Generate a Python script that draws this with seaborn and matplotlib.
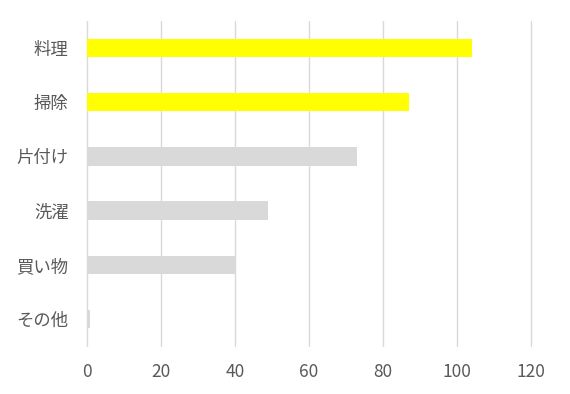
import matplotlib
matplotlib.use("Agg")
import matplotlib.pyplot as plt
import seaborn as sns
import pandas as pd

categories = ["料理", "掃除", "片付け", "洗濯", "買い物", "その他"]
values = [104, 87, 73, 49, 40, 1]
bar_colors = ["#FFFF00", "#FFFF00", "#D9D9D9", "#D9D9D9", "#D9D9D9", "#D9D9D9"]
x_ticks = [0, 20, 40, 60, 80, 100, 120]

sns.set_theme(style="white")
plt.rcParams["font.family"] = ["Noto Sans CJK JP", "DejaVu Sans"]

df = pd.DataFrame({"category": categories, "value": values})

fig = plt.figure(figsize=(5.7, 3.94), dpi=100)
ax = fig.add_axes([0.1521, 0.1218, 0.780, 0.825])

sns.barplot(data=df, x="value", y="category", hue="category",
            palette=bar_colors, legend=False, width=0.34, ax=ax,
            order=categories, hue_order=categories, saturation=1,
            linewidth=0, edgecolor="none")

ax.set_xlim(0, 120)
ax.set_xticks(x_ticks)
ax.set_xticklabels([str(t) for t in x_ticks])
ax.set_xlabel("")
ax.set_ylabel("")
ax.grid(axis="x", color="#D9D9D9", linewidth=1.0)
ax.grid(axis="y", visible=False)
for gl in ax.get_xgridlines():
    gl.set_clip_on(False)
ax.set_axisbelow(True)
for s in ax.spines.values():
    s.set_visible(False)
ax.tick_params(axis="both", length=0, labelsize=12.5, colors="#595959")
ax.tick_params(axis="y", pad=13)
ax.tick_params(axis="x", pad=12)

fig.savefig("out.png", dpi=100)
